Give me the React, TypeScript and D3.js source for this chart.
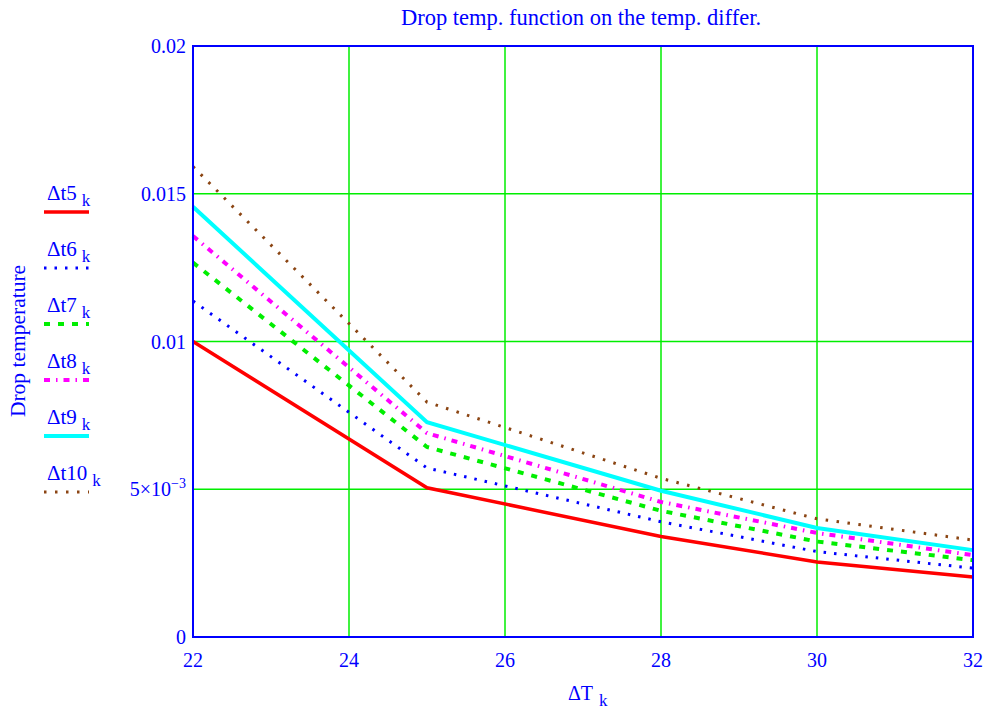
import React from "react";
import * as d3 from "d3";

const xValues = [22, 25, 28, 30, 32];
const seriesNames = ["5", "6", "7", "8", "9", "10"];
const dt5 = [0.01, 0.00505, 0.0034, 0.00254, 0.00203];
const dt6 = [0.01137, 0.00572, 0.0039, 0.00289, 0.00233];
const dt7 = [0.01267, 0.00643, 0.00427, 0.00323, 0.0026];
const dt8 = [0.01357, 0.0069, 0.00457, 0.00352, 0.00277];
const dt9 = [0.01456, 0.00727, 0.00495, 0.00369, 0.00294];
const dt10 = [0.01592, 0.00795, 0.00537, 0.004, 0.00328];
const xTicks = [22, 24, 26, 28, 30, 32];
const yTicks = [0, 0.005, 0.01, 0.015, 0.02];

const seriesData = [dt5, dt6, dt7, dt8, dt9, dt10];
const styles = [
  { color: "#ff0000", width: 3.5, dash: "" },
  { color: "#0000ff", width: 3, dash: "2.5 8" },
  { color: "#00ee00", width: 4, dash: "6 8" },
  { color: "#ff00ff", width: 4, dash: "6 6 1.5 6" },
  { color: "#00ffff", width: 4, dash: "" },
  { color: "#8b4513", width: 3, dash: "2.5 8.5" },
];

const BLUE = "#0000ff";
const FONT = "'Liberation Serif', 'Times New Roman', serif";

export default function App() {
  const left = 193, right = 973, top = 46, bottom = 637;
  const x = d3.scaleLinear().domain([22, 32]).range([left, right]);
  const y = d3.scaleLinear().domain([0, 0.02]).range([bottom, top]);
  const line = d3.line<[number, number]>().x(d => x(d[0])).y(d => y(d[1]));

  const yLabel = (v: number) => {
    if (v === 0.005) return null;
    return v === 0 ? "0" : String(v);
  };

  return (
    <svg width={987} height={711} style={{ position: "absolute", left: 0, top: 0, background: "#fff" }} fontFamily={FONT}>
      {xTicks.slice(1, -1).map(t => (
        <line key={"gx" + t} x1={x(t)} x2={x(t)} y1={top} y2={bottom} stroke="#00ee00" strokeWidth={1.5} />
      ))}
      {yTicks.slice(1, -1).map(t => (
        <line key={"gy" + t} x1={left} x2={right} y1={y(t)} y2={y(t)} stroke="#00ee00" strokeWidth={1.5} />
      ))}
      {seriesData.map((vals, i) => (
        <path key={"s" + i} d={line(vals.map((v, j) => [xValues[j], v] as [number, number])) || ""}
          fill="none" stroke={styles[i].color} strokeWidth={styles[i].width}
          strokeDasharray={styles[i].dash || undefined} />
      ))}
      <rect x={left} y={top} width={right - left} height={bottom - top} fill="none" stroke={BLUE} strokeWidth={2} />
      {yTicks.map(t => {
        const lab = yLabel(t);
        return (
          <text key={"yt" + t} x={186} y={y(t) + 7} textAnchor="end" fontSize={20} fill={BLUE}>
            {lab === null ? (
              <>
                5×10<tspan dy={-8} fontSize={14}>−3</tspan>
              </>
            ) : lab}
          </text>
        );
      })}
      {xTicks.map(t => (
        <text key={"xt" + t} x={x(t)} y={667} textAnchor="middle" fontSize={20} fill={BLUE}>{t}</text>
      ))}
      <text x={581} y={25} textAnchor="middle" fontSize={22.5} fill={BLUE}>Drop temp. function on the temp. differ.</text>
      <text x={568} y={700} fontSize={20} fill={BLUE}>ΔT<tspan dx={6} dy={6} fontSize={17}>k</tspan></text>
      <text transform="translate(25,341) rotate(-90)" textAnchor="middle" fontSize={21.5} fill={BLUE}>Drop temperature</text>
      {seriesNames.map((n, i) => {
        const ty = 200 + i * 56;
        return (
          <g key={"lg" + i}>
            <text x={47} y={ty} fontSize={21} fill={BLUE}>Δt{n}<tspan dx={5} dy={6} fontSize={17}>k</tspan></text>
            <line x1={44} x2={89} y1={ty + 12} y2={ty + 12} stroke={styles[i].color} strokeWidth={styles[i].width}
              strokeDasharray={styles[i].dash || undefined} />
          </g>
        );
      })}
    </svg>
  );
}
